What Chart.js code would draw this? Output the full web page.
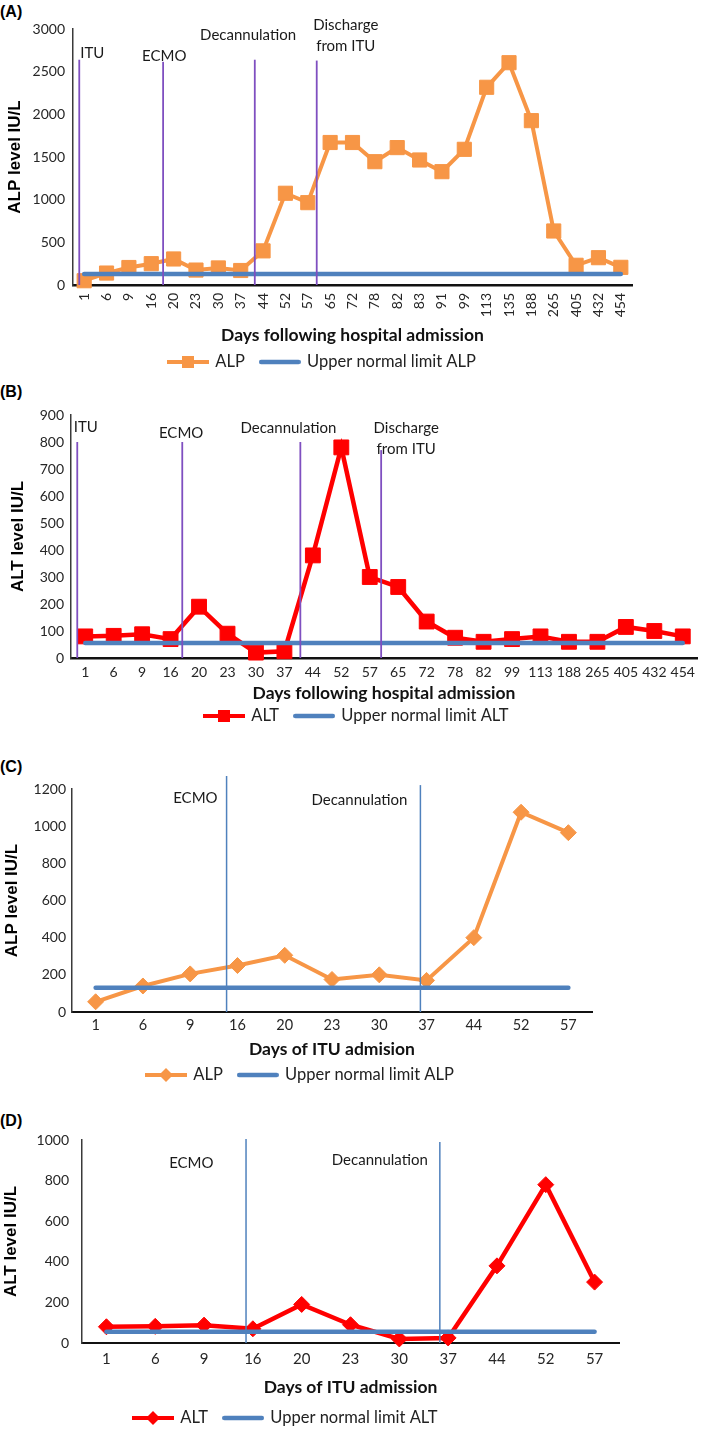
<!DOCTYPE html>
<html>
<head>
<meta charset="utf-8">
<script src="https://cdn.jsdelivr.net/npm/chart.js@4.4.1/dist/chart.umd.min.js"></script>
<style>
html,body{margin:0;padding:0;background:#fff;}
body{width:709px;height:1429px;position:relative;overflow:hidden;}
.panel{position:absolute;left:0;width:709px;}
.plabel{position:absolute;left:0;font:bold 16px "Liberation Sans",Arial,sans-serif;line-height:18px;color:#000;}
</style>
</head>
<body>
<div class="plabel" style="top:3px">(A)</div>
<div class="plabel" style="top:383px">(B)</div>
<div class="plabel" style="top:758px">(C)</div>
<div class="plabel" style="top:1112px">(D)</div>
<div class="panel" style="top:0px;height:390px"><canvas id="cA"></canvas></div>
<div class="panel" style="top:370px;height:378px"><canvas id="cB"></canvas></div>
<div class="panel" style="top:730px;height:374px"><canvas id="cC"></canvas></div>
<div class="panel" style="top:1090px;height:352px"><canvas id="cD"></canvas></div>
<script>
// ---------- DATA ----------
const daysHospitalA = ['1','6','9','16','20','23','30','37','44','52','57','65','72','78','82','83','91','99','113','135','188','265','405','432','454'];
const alpHospital   = [50,140,205,250,305,175,200,170,400,1075,965,1670,1670,1445,1610,1465,1328,1590,2317,2605,1926,633,231,320,207];
const ulnAlpHospital= [130,130,130,130,130,130,130,130,130,130,130,130,130,130,130,130,130,130,130,130,130,130,130,130,130];

const daysHospitalB = ['1','6','9','16','20','23','30','37','44','52','57','65','72','78','82','99','113','188','265','405','432','454'];
const altHospital   = [80,82,88,70,190,90,20,25,380,780,300,263,135,75,60,70,80,60,60,115,100,80];
const ulnAltHospital= [56,56,56,56,56,56,56,56,56,56,56,56,56,56,56,56,56,56,56,56,56,56];

const daysITU   = ['1','6','9','16','20','23','30','37','44','52','57'];
const alpITU    = [55,140,205,250,305,175,200,170,400,1075,965];
const ulnAlpITU = [130,130,130,130,130,130,130,130,130,130,130];
const altITU    = [80,82,88,70,190,90,20,25,380,780,300];
const ulnAltITU = [55,55,55,55,55,55,55,55,55,55,55];

const yMaxA = 3000, yStepA = 500;
const yMaxB = 900,  yStepB = 100;
const yMaxC = 1200, yStepC = 200;
const yMaxD = 1000, yStepD = 200;

// events (x in category-index units, y in axis value units)
const eventsA = [{name:'ITU',at:-0.22,top:2640},{name:'ECMO',at:3.53,top:2615},{name:'Decannulation',at:7.63,top:2640},{name:'Discharge from ITU',at:10.4,top:2630}];
const eventsB = [{name:'ITU',at:-0.28,top:800},{name:'ECMO',at:3.41,top:800},{name:'Decannulation',at:7.56,top:800},{name:'Discharge from ITU',at:10.4,top:770}];
const eventsC = [{name:'ECMO',at:2.77,top:1270},{name:'Decannulation',at:6.87,top:1221}];
const eventsD = [{name:'ECMO',at:2.86,top:1005},{name:'Decannulation',at:6.83,top:990}];

// ---------- STYLE ----------
const ORANGE = '#F79646', RED = '#FF0000', BLUE = '#4F81BD', PURPLE = '#7F4FC0';
Chart.defaults.font.family = 'Lato, "Open Sans", sans-serif';
Chart.defaults.color = '#262626';
const LEGEND_FONT = 16.5, LEGEND_PAD = 16;

const textA = [{t:'ITU',at:0.36,y:2719},{t:'ECMO',at:3.58,y:2684},{t:'Decannulation',at:7.33,y:2930},{t:'Discharge',at:11.7,y:3047},{t:'from ITU',at:11.7,y:2801}];
const textB = [{t:'ITU',at:0.02,y:856},{t:'ECMO',at:3.37,y:833},{t:'Decannulation',at:7.14,y:852},{t:'Discharge',at:11.28,y:852},{t:'from ITU',at:11.28,y:774}];
const textC = [{t:'ECMO',at:2.11,y:1152},{t:'Decannulation',at:5.58,y:1141}];
const textD = [{t:'ECMO',at:1.74,y:887},{t:'Decannulation',at:5.6,y:901}];

function makeIcon(color, marker, w, h, lw, round) {
  const c = document.createElement('canvas'); c.width = w; c.height = h;
  const g = c.getContext('2d');
  g.strokeStyle = color; g.lineWidth = lw; g.lineCap = round ? 'round' : 'butt';
  g.beginPath(); g.moveTo(round ? lw/2 : 0, h/2); g.lineTo(round ? w - lw/2 : w, h/2); g.stroke();
  g.fillStyle = color;
  if (marker === 'rect') g.fillRect(w/2 - 6, h/2 - 6, 12, 12);
  if (marker === 'rectRot') { g.beginPath(); g.moveTo(w/2, h/2-7); g.lineTo(w/2+7, h/2); g.lineTo(w/2, h/2+7); g.lineTo(w/2-7, h/2); g.closePath(); g.fill(); }
  return c;
}

const eventPlugin = {
  id: 'eventMarks',
  afterDatasetsDraw(chart, args, opts) {
    const {ctx, scales:{x, y}} = chart;
    ctx.save();
    ctx.strokeStyle = opts.color; ctx.lineWidth = opts.width;
    opts.events.forEach(e => {
      const px = x.getPixelForValue(e.at);
      ctx.beginPath(); ctx.moveTo(px, y.getPixelForValue(e.top)); ctx.lineTo(px, y.getPixelForValue(0)); ctx.stroke();
    });
    ctx.font = '15px Lato, "Open Sans", sans-serif';
    ctx.fillStyle = '#1a1a1a'; ctx.textAlign = 'center'; ctx.textBaseline = 'middle';
    opts.texts.forEach(t => ctx.fillText(t.t, x.getPixelForValue(t.at), y.getPixelForValue(t.y)));
    ctx.restore();
  }
};

const legendPosPlugin = {
  id: 'legendPos',
  afterLayout(chart, args, opts) {
    const lg = chart.legend; if (!lg) return;
    const pad = lg.options.labels.padding;
    const w = lg.right - lg.left, h = lg.bottom - lg.top;
    lg.left = opts.x - pad; lg.right = lg.left + w;
    lg.top = opts.y - pad - opts.fontSize / 2; lg.bottom = lg.top + h;
  }
};

function buildChart(id, p) {
  const icons = [makeIcon(p.color, p.pointStyle, 42, 16, 4, false), makeIcon(BLUE, null, 42, 16, 4.5, true)];
  const legendH = LEGEND_FONT + LEGEND_PAD + 10;
  const padBottom = Math.max(0, p.H - p.area.bottom - p.xh - legendH);
  return new Chart(document.getElementById(id), {
    type: 'line',
    data: {
      labels: p.labels,
      datasets: [
        { label: p.seriesName, data: p.values, borderColor: p.color, backgroundColor: p.color,
          borderWidth: p.lineWidth, pointStyle: p.pointStyle, pointRadius: p.pointRadius, pointHoverRadius: p.pointRadius,
          pointBackgroundColor: p.color, pointBorderColor: p.color, pointBorderWidth: 1, tension: 0, order: 1, clip: false },
        { label: p.ulnName, data: p.uln, borderColor: BLUE, backgroundColor: BLUE, borderWidth: 4.5,
          pointRadius: 0, pointHoverRadius: 0, borderCapStyle: 'round', tension: 0, order: 0, clip: false }
      ]
    },
    options: {
      responsive: true, maintainAspectRatio: false, animation: false, events: [],
      layout: { padding: { left: 0, top: p.area.top, right: 709 - p.area.right, bottom: padBottom } },
      scales: {
        x: {
          type: 'category', offset: true,
          grid: { display: false, drawTicks: false },
          border: { display: true, color: '#111', width: p.xBorder },
          ticks: { autoSkip: false, minRotation: p.rot, maxRotation: p.rot, padding: p.xPad,
                   font: { size: p.xFont }, color: '#262626' },
          title: { display: true, text: p.xTitle, padding: { top: 0, bottom: 0 },
                   font: { size: 17.5, weight: 'bold' }, color: '#111' },
          afterFit: s => { s.height = p.xh; }
        },
        y: {
          min: 0, max: p.yMax,
          grid: { display: false, drawTicks: false },
          border: { display: true, color: '#3a3a3a', width: 1.5 },
          ticks: { stepSize: p.yStep, padding: p.yPad, font: { size: 14 }, color: '#262626', callback: v => String(v) },
          title: { display: true, text: p.yTitle, padding: { top: p.yTitlePad, bottom: 0 },
                   font: { family: '"Liberation Sans", Arial, sans-serif', size: 17, weight: 'bold' }, color: '#000' },
          afterFit: s => { s.width = p.area.left; }
        }
      },
      plugins: {
        tooltip: { enabled: false },
        legend: {
          display: true, position: 'bottom', align: 'start', reverse: true,
          labels: {
            usePointStyle: true, pointStyleWidth: 38, padding: LEGEND_PAD, color: '#222',
            font: { size: LEGEND_FONT },
            generateLabels(chart) {
              const items = Chart.defaults.plugins.legend.labels.generateLabels(chart);
              items.forEach(it => { it.pointStyle = icons[it.datasetIndex]; it.lineWidth = 0; it.fontColor = '#222'; });
              return items;
            }
          }
        },
        legendPos: { x: p.legendX, y: p.legendY, fontSize: LEGEND_FONT },
        eventMarks: { color: p.evColor, width: p.evWidth, events: p.events, texts: p.texts }
      }
    },
    plugins: [eventPlugin, legendPosPlugin]
  });
}

buildChart('cA', {
  H: 390, area: { left: 73, right: 632, top: 29, bottom: 285 }, xh: 60.5,
  labels: daysHospitalA, values: alpHospital, uln: ulnAlpHospital,
  seriesName: 'ALP', ulnName: 'Upper normal limit ALP', color: ORANGE, lineWidth: 4,
  pointStyle: 'rect', pointRadius: 10, rot: 90, xPad: 8, xFont: 14, xBorder: 2.5,
  xTitle: 'Days following hospital admission', yTitle: 'ALP level IU/L', yTitlePad: 4.8,
  yMax: yMaxA, yStep: yStepA, yPad: 8, legendX: 169, legendY: 362,
  evColor: PURPLE, evWidth: 1.8, events: eventsA, texts: textA
});
buildChart('cB', {
  H: 378, area: { left: 71, right: 697, top: 45, bottom: 288 }, xh: 45.5,
  labels: daysHospitalB, values: altHospital, uln: ulnAltHospital,
  seriesName: 'ALT', ulnName: 'Upper normal limit ALT', color: RED, lineWidth: 4.5,
  pointStyle: 'rect', pointRadius: 10.5, rot: 0, xPad: 6, xFont: 14, xBorder: 2.5,
  xTitle: 'Days following hospital admission', yTitle: 'ALT level IU/L', yTitlePad: 7.8,
  yMax: yMaxB, yStep: yStepB, yPad: 7, legendX: 205, legendY: 346,
  evColor: PURPLE, evWidth: 1.8, events: eventsB, texts: textB
});
buildChart('cC', {
  H: 374, area: { left: 72, right: 592, top: 59, bottom: 282 }, xh: 47.5,
  labels: daysITU, values: alpITU, uln: ulnAlpITU,
  seriesName: 'ALP', ulnName: 'Upper normal limit ALP', color: ORANGE, lineWidth: 4,
  pointStyle: 'rectRot', pointRadius: 8, rot: 0, xPad: 5, xFont: 14.5, xBorder: 2,
  xTitle: 'Days of ITU admision', yTitle: 'ALP level IU/L', yTitlePad: 1.8,
  yMax: yMaxC, yStep: yStepC, yPad: 6, legendX: 147, legendY: 345,
  evColor: BLUE, evWidth: 1.5, events: eventsC, texts: textC
});
buildChart('cD', {
  H: 352, area: { left: 82, right: 619, top: 50, bottom: 253 }, xh: 54.5,
  labels: daysITU, values: altITU, uln: ulnAltITU,
  seriesName: 'ALT', ulnName: 'Upper normal limit ALT', color: RED, lineWidth: 4.5,
  pointStyle: 'rectRot', pointRadius: 8, rot: 0, xPad: 7, xFont: 15, xBorder: 2,
  xTitle: 'Days of ITU admission', yTitle: 'ALT level IU/L', yTitlePad: 0.8,
  yMax: yMaxD, yStep: yStepD, yPad: 13, legendX: 134, legendY: 328,
  evColor: BLUE, evWidth: 1.5, events: eventsD, texts: textD
});
</script>
</body>
</html>
